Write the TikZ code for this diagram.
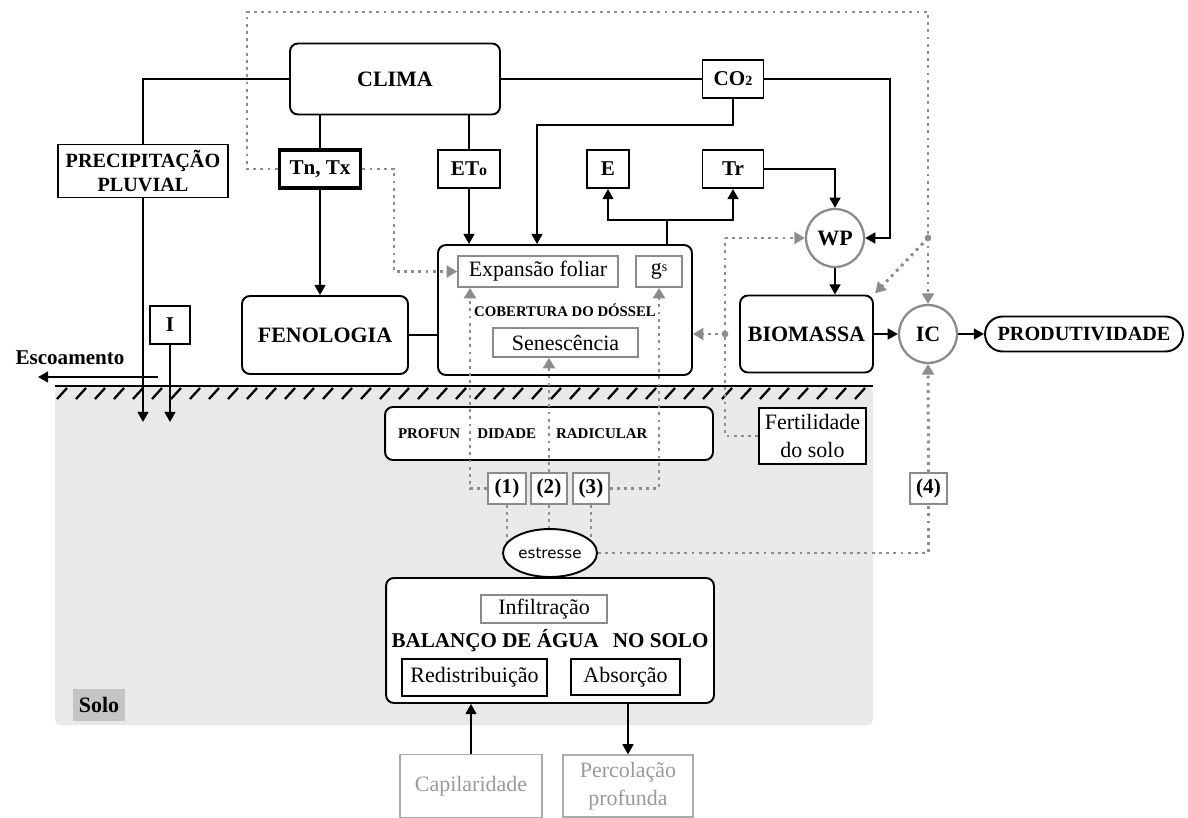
\documentclass[tikz,border=0pt]{standalone}
\usepackage{fontspec}
\setmainfont{Liberation Serif}
\newfontfamily\sansf{DejaVu Sans}
\usetikzlibrary{arrows.meta,positioning,backgrounds,shapes.geometric}
\definecolor{soilGrey}{HTML}{E9E9E9}
\definecolor{tagGrey}{HTML}{C4C4C4}
\definecolor{dotGrey}{HTML}{8C8C8C}
\definecolor{edgeGrey}{HTML}{8A8A8A}
\definecolor{paleGrey}{HTML}{ABABAB}
\definecolor{paleText}{HTML}{999999}
\newcommand\fsBig{\fontsize{12.5}{15}\selectfont\bfseries}
\newcommand\fsMid{\fontsize{11.5}{13.6}\selectfont\bfseries}
\newcommand\fsTag{\fontsize{12}{14}\selectfont\bfseries}
\newcommand\fsTiny{\fontsize{8.5}{10}\selectfont\bfseries}
\newcommand\fsReg{\fontsize{12.5}{16}\selectfont}

\begin{document}
\begin{tikzpicture}[x=0.02cm, y=-0.02cm,
  box/.style={draw, line width=1.1pt, fill=white, inner sep=0pt, align=center},
  rbox/.style={box, rounded corners=4.5pt},
  thinbox/.style={draw=edgeGrey, line width=1pt, fill=white, inner sep=0pt, align=center},
  palebox/.style={draw=paleGrey, line width=0.7pt, inner sep=0pt, align=center, text=paleText, font=\fsReg},
  hub/.style={circle, draw=edgeGrey, line width=1.3pt, fill=white, minimum size=1.16cm, inner sep=0pt, font=\fsBig},
  link/.style={line width=1.1pt},
  arr/.style={link, -{Triangle[length=5.8pt,width=6.2pt]}},
  dotlink/.style={dotGrey, line width=1.7pt, dash pattern=on 1.6pt off 2.5pt},
  dotarr/.style={dotlink, -{Triangle[length=6pt,width=6.8pt]}},
]
\useasboundingbox (0,0) rectangle (1188,818);
% ---- soil ----
\begin{scope}[on background layer]
  \fill[soilGrey, rounded corners=3pt] (55,386) rectangle (873,725);
\end{scope}
\draw[line width=1.6pt] (55,386) -- (873,386);
\foreach \hx in {67,86,...,866}{\draw[line width=1.3pt] (\hx,388) -- (\hx-10,399);}
\node[fill=tagGrey, font=\fsBig, inner sep=0pt, minimum width=1.04cm, minimum height=0.64cm] (solo) at (99,705) {Solo};
% ---- climate and inputs ----
\node[rbox, font=\fsBig, minimum width=4.2cm, minimum height=1.42cm] (clima) at (395,79) {CLIMA};
\node[box, font=\fsMid, line width=0.9pt, minimum width=3.4cm, minimum height=1.06cm] (precip) at (143,171) {PRECIPITAÇÃO\\PLUVIAL};
\node[box, font=\fsTag, line width=2.2pt, minimum width=1.62cm, minimum height=0.76cm] (tntx) at (320,169) {Tn, Tx};
\node[box, font=\fsTag, minimum width=1.24cm, minimum height=0.76cm] (eto) at (469,169) {ET{\fontsize{9}{9}\selectfont o}};
\node[box, font=\fsTag, minimum width=1.22cm, minimum height=0.76cm] (co2) at (733,79) {CO{\fontsize{8}{8}\selectfont 2}};
\node[box, font=\fsTag, minimum width=0.84cm, minimum height=0.76cm] (e) at (608,169) {E};
\node[box, font=\fsTag, minimum width=1.22cm, minimum height=0.76cm] (tr) at (733,169) {Tr};
\node[box, font=\fsTag, minimum width=0.8cm, minimum height=0.76cm] (inf) at (170,325) {I};
\node[font=\fsTag] (runoff) at (70,358) {Escoamento};
% ---- crop ----
\node[rbox, font=\fsBig, minimum width=3.32cm, minimum height=1.56cm] (feno) at (325,335) {FENOLOGIA};
\node[rbox, font=\fontsize{8.4}{10}\selectfont\bfseries, minimum width=5.08cm, minimum height=2.6cm] (canopy) at (565,310) {COBERTURA DO DÓSSEL};
\node[thinbox, font=\fsReg, minimum width=3.2cm, minimum height=0.62cm] (expan) at (538,271.5) {Expansão foliar};
\node[thinbox, font=\fsReg, minimum width=0.92cm, minimum height=0.62cm] (gs) at (659,271.5) {g\raisebox{0.35ex}{\fontsize{8}{8}\selectfont s}};
\node[thinbox, font=\fsReg, minimum width=2.9cm, minimum height=0.58cm] (senes) at (565.5,342.5) {Senescência};
\node[hub] (wp) at (835,238) {WP};
\node[rbox, font=\fsBig, minimum width=2.66cm, minimum height=1.54cm] (bio) at (806.5,334) {BIOMASSA};
\node[hub] (ic) at (928,334) {IC};
\node[box, font=\fsMid, rounded corners=10pt, minimum width=3.96cm, minimum height=0.7cm] (prod) at (1084,334) {PRODUTIVIDADE};
% ---- soil side ----
\node[rbox, font=\fsTiny, minimum width=6.56cm, minimum height=1.06cm] (root) at (549,433.5) {PROFUN\hspace{0.34cm}DIDADE\hspace{0.4cm}RADICULAR\hspace*{1.05cm}};
\node[box, font=\fsReg, line width=0.9pt, minimum width=2.14cm, minimum height=1.12cm] (fert) at (812.5,436) {Fertilidade\\do solo};
\node[thinbox, font=\fsTag, minimum width=0.76cm, minimum height=0.62cm] (n1) at (507,488.5) {(1)};
\node[thinbox, font=\fsTag, minimum width=0.72cm, minimum height=0.62cm] (n2) at (549,488.5) {(2)};
\node[thinbox, font=\fsTag, minimum width=0.72cm, minimum height=0.62cm] (n3) at (591,488.5) {(3)};
\node[thinbox, font=\fsTag, minimum width=0.74cm, minimum height=0.62cm] (n4) at (928.5,488.5) {(4)};
\node[ellipse, draw, line width=1.1pt, fill=white, inner sep=0pt, minimum width=1.88cm, minimum height=0.96cm, font=\sansf\fontsize{8.6}{10}\selectfont] (stress) at (550,553) {estresse};
\node[rbox, font=\fsTag, minimum width=6.56cm, minimum height=2.5cm] (water) at (550,640.5) {BALANÇO DE ÁGUA\hspace{5pt} NO SOLO};
\node[thinbox, font=\fsReg, minimum width=2.52cm, minimum height=0.56cm] (infil) at (544,609) {Infiltração};
\node[box, font=\fsReg, line width=0.9pt, minimum width=2.9cm, minimum height=0.74cm] (redis) at (474.5,677.5) {Redistribuição};
\node[box, font=\fsReg, line width=0.9pt, minimum width=2.18cm, minimum height=0.72cm] (absor) at (625.5,677) {Absorção};
\node[palebox, minimum width=2.84cm, minimum height=1.26cm] (capil) at (471,786) {Capilaridade};
\node[palebox, minimum width=2.6cm, minimum height=1.24cm] (perc) at (628,786) {Percolação\\profunda};
% ---- corner points ----
\coordinate (rainEnd) at (143,422);
\coordinate (runS) at (158,377);
\coordinate (runE) at (38,377);
\coordinate (co2r) at (890,79);
\coordinate (co2d) at (537,125);
\coordinate (split) at (667,220);
\coordinate (topL) at (247,12);
\coordinate (tcor) at (394,169);
\coordinate (fcor) at (725,238);
\coordinate (r1) at (470,488.5);
\coordinate (jIC) at (ic |- wp);
\coordinate (jC) at (fcor |- bio);
% ---- solid links ----
\draw[link] (clima.west) -| (precip.north);
\draw[arr] (precip.south) -- (rainEnd);
\draw[arr] (inf.south) -- (inf.south |- rainEnd);
\draw[arr] (runS) -- (runE);
\draw[link] (clima.south -| tntx) -- (tntx.north);
\draw[arr] (tntx.south) -- (tntx.south |- feno.north);
\draw[link] (clima.south -| eto) -- (eto.north);
\draw[arr] (eto.south) -- (eto.south |- canopy.north);
\draw[link] (clima.east) -- (co2.west);
\draw[arr] (co2.east) -- (co2r) |- (wp.east);
\draw[arr] (co2.south) |- (co2d) -- (co2d |- canopy.north);
\draw[link] (split |- canopy.north) -- (split);
\draw[arr] (split) -| (e.south);
\draw[arr] (split) -| (tr.south);
\draw[arr] (tr.east) -| (wp.north);
\draw[arr] (wp.south) -- (wp.south |- bio.north);
\draw[arr] (bio.east) -- (ic.west);
\draw[arr] (ic.east) -- (prod.west);
\draw[link] (feno.east) -- (feno.east -| canopy.west);
\draw[arr] (capil.north) -- (capil.north |- water.south);
\draw[arr] (water.south -| perc.north) -- (perc.north);
% ---- dotted links ----
\draw[dotarr] (tntx.west) -| (topL) -| (ic.north);
\fill[dotGrey] (jIC) circle (1.9pt);
\draw[dotarr, shorten >=1pt] (jIC) -- (bio.north east);
\draw[dotarr] (tntx.east) -- (tcor) |- (expan.west);
\draw[dotlink] (fert.west) -| (fcor);
\draw[dotarr] (fcor) -- (wp.west);
\fill[dotGrey] (jC) circle (1.9pt);
\draw[dotarr] (jC) -- (jC -| canopy.east);
\draw[dotarr] (n1.west) -| (r1 |- expan.south);
\draw[dotarr] (n2.north) -- (n2.north |- senes.south);
\draw[dotarr] (n3.east) -| (gs.south);
\begin{scope}[on background layer]
  \foreach \n in {n1,n2,n3}{\draw[dotlink] (\n.south) -- (\n.south |- stress);}
\end{scope}
\draw[dotlink] (stress.east) -| (n4.south);
\draw[dotarr] (n4.north) -- (ic.south);
\end{tikzpicture}
\end{document}
